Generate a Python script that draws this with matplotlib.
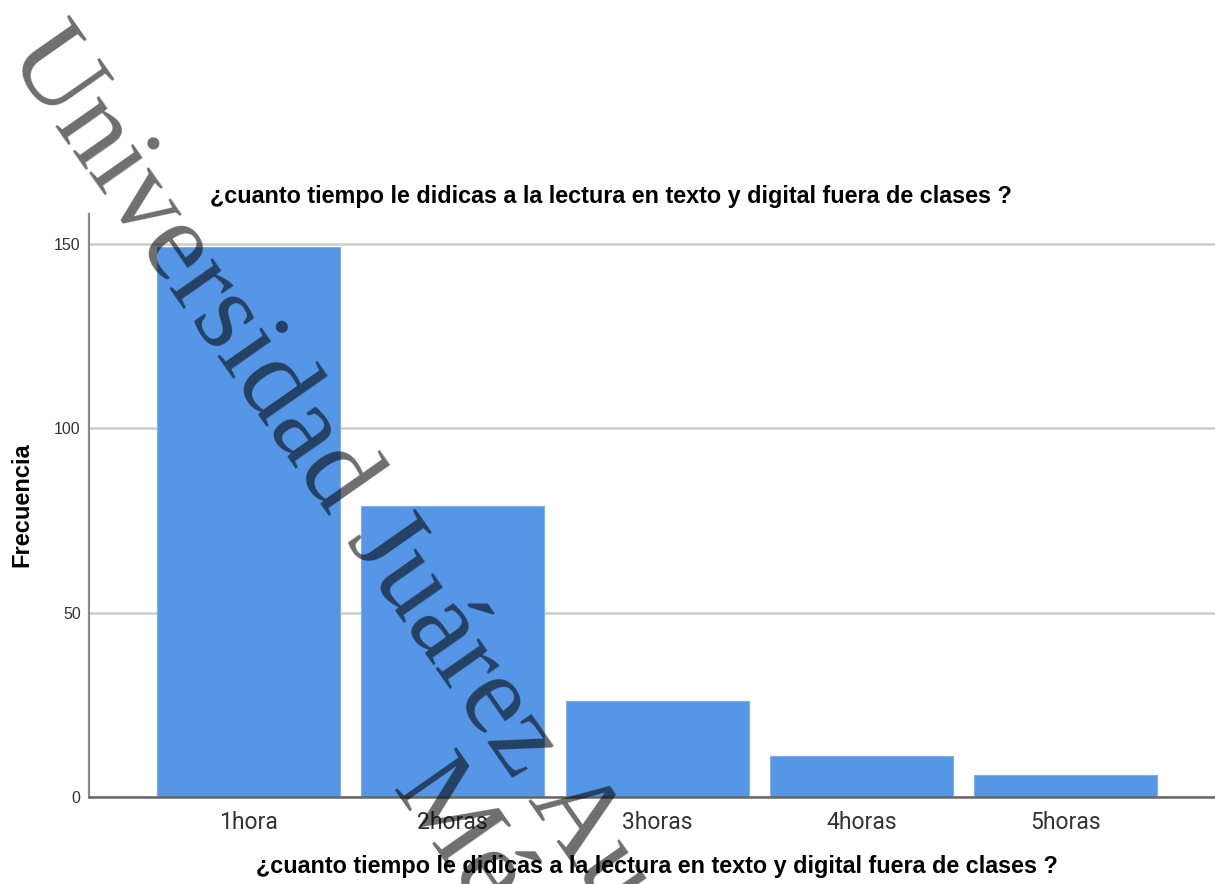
"""Bar chart: tiempo de lectura fuera de clases"""
import matplotlib
matplotlib.use("Agg")
from matplotlib import pyplot as plt

categorias = ['1hora', '2horas', '3horas', '4horas', '5horas']
frecuencias = [149, 79, 26, 11, 6]
yticks = [0, 50, 100, 150]
pregunta = '¿cuanto tiempo le didicas a la lectura en texto y digital fuera de clases ?'
marca_1 = 'Universidad Juárez Au'
marca_2 = 'Mé'

plt.rcParams['font.family'] = ['Liberation Sans', 'DejaVu Sans']

fig = plt.figure(figsize=(12.15, 8.84), dpi=100)
ax = fig.add_axes([89 / 1215, 1 - 797 / 884, 1 - 89 / 1215, (797 - 214) / 884])

x = list(range(len(categorias)))
ax.bar(x, frecuencias, width=0.895, color='#5596e6', edgecolor='#7eaeec', linewidth=0.8, zorder=2)

ax.set_xlim(-0.78, 4.73)
ax.set_ylim(0, 158)
ax.set_yticks(yticks)
ax.set_xticks(x)
ax.set_xticklabels(categorias, fontsize=16.5, color='#333333', family=['Roboto', 'DejaVu Sans'])
ax.tick_params(axis='x', length=0, pad=10)
ax.tick_params(axis='y', length=0, pad=6, labelsize=11.5, labelcolor='#333333')
ax.yaxis.grid(True, color='#cccccc', linewidth=1.8, zorder=1)
ax.set_axisbelow(True)
for s in ['top', 'right']:
    ax.spines[s].set_visible(False)
ax.spines['left'].set_color('#8a8a8a')
ax.spines['left'].set_linewidth(1.6)
ax.spines['bottom'].set_color('#666666')
ax.spines['bottom'].set_linewidth(1.8)
ax.spines['bottom'].set_zorder(3)

fig.text(611 / 1215, 1 - 196 / 884, pregunta, ha='center', va='center', fontsize=16.8, fontweight='bold')
fig.text(657 / 1215, 1 - 866 / 884, pregunta, ha='center', va='center', fontsize=16.8, fontweight='bold')
fig.text(22 / 1215, 1 - 505 / 884, 'Frecuencia', ha='center', va='center', rotation=90,
         fontsize=17, fontweight='bold')

# marca de agua (cortada por los bordes, como en la imagen)
fig.text(6 / 1215, 1 - 55 / 884, marca_1, rotation=-55, rotation_mode='anchor', ha='left', va='baseline',
         fontsize=83, family='Liberation Serif', color='black', alpha=0.57, zorder=10)
fig.text(390 / 1215, 1 - 789 / 884, marca_2, rotation=-55, rotation_mode='anchor', ha='left', va='baseline',
         fontsize=83, family='Liberation Serif', color='black', alpha=0.57, zorder=10)

fig.savefig('out.png', dpi=100)
